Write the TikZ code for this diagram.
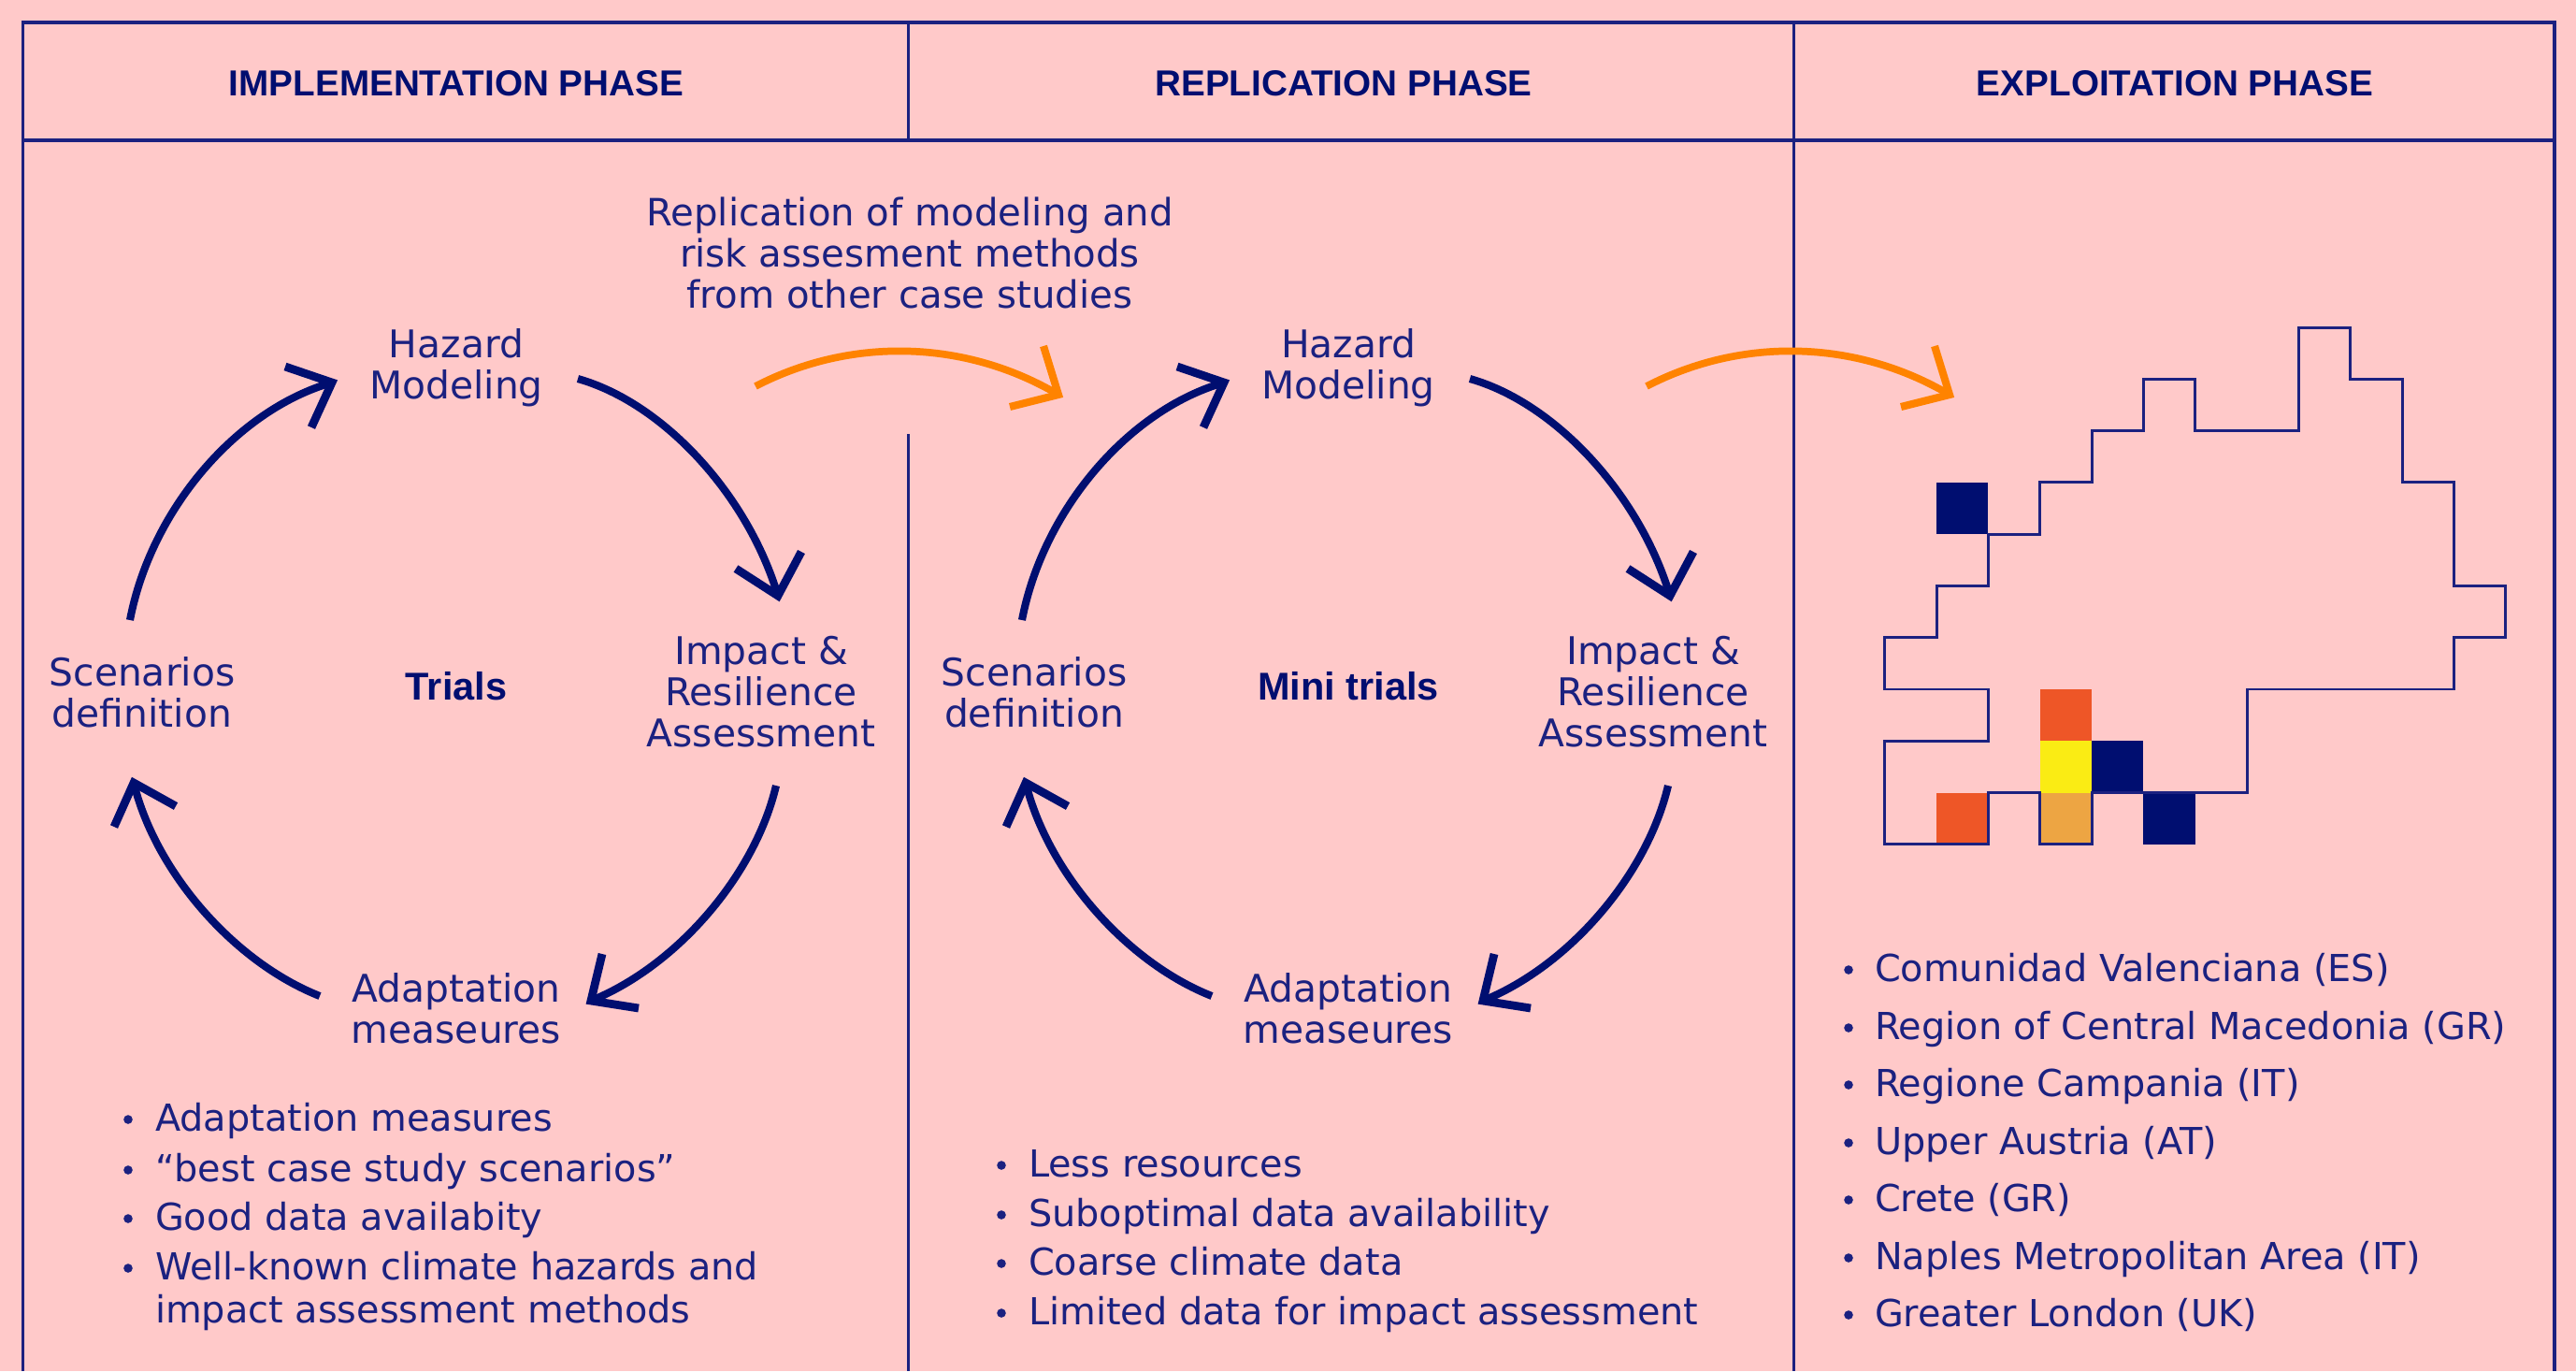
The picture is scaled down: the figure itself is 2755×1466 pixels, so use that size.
\documentclass[tikz,border=0pt]{standalone}
\usepackage{fontspec}
\setmainfont{DejaVu Sans}
\newfontfamily\headfont{Liberation Sans}[BoldFont={Liberation Sans Bold}]
\definecolor{bgpink}{HTML}{FFC9C9}
\definecolor{navy}{HTML}{000E70}
\definecolor{inkblue}{HTML}{1B2180}
\definecolor{linkorange}{HTML}{FF8300}
\definecolor{cellred}{HTML}{EE5627}
\definecolor{cellyellow}{HTML}{FAEC14}
\definecolor{celltan}{HTML}{EDA543}
\tikzset{
  rule/.style={draw=inkblue,line width=0.8pt},
  rulethick/.style={draw=inkblue,line width=1pt},
  bodytext/.style={text=inkblue,inner sep=0pt,outer sep=0pt,align=center,anchor=base,font=\fontsize{11.6}{12.4}\selectfont},
  notetext/.style={bodytext,font=\fontsize{11.45}{12.4}\selectfont},
  listtext/.style={text=inkblue,inner sep=0pt,outer sep=0pt,align=left,anchor=base west,font=\fontsize{11.32}{13}\selectfont},
  headtext/.style={text=navy,inner sep=0pt,outer sep=0pt,anchor=base,font=\headfont\bfseries\fontsize{11}{12}\selectfont},
  trialtext/.style={text=navy,inner sep=0pt,outer sep=0pt,anchor=base,font=\headfont\bfseries\fontsize{11.8}{13}\selectfont},
  cyclearc/.style={draw=navy,line width=2.3pt},
  cyclehead/.style={draw=navy,line width=2.5pt,miter limit=10},
  linkarc/.style={draw=linkorange,line width=2.2pt},
  linkhead/.style={draw=linkorange,line width=2.3pt,miter limit=10},
  outlinepath/.style={draw=inkblue,line width=0.85pt,line join=miter},
}
% one list line: name, x of bullet, x of text, baseline, text
\newcommand{\listline}[5]{%
  \fill[inkblue] (#2,#4-12) circle [radius=0.048cm];
  \node[listtext] (#1) at (#3,#4) {#5};
}
% one cycle of four arrows, with its labels
\newcommand{\cycleset}[3]{%
  \begin{scope}[shift={(#2,0)}]
    \node[bodytext] (#1haz) at (488,426) {Hazard\\Modeling};
    \node[bodytext] (#1imp) at (814,798) {Impact \&\\Resilience\\Assessment};
    \node[bodytext] (#1ada) at (488,1115) {Adaptation\\measeures};
    \node[bodytext] (#1sce) at (152,777) {Scenarios\\definition};
    \node[trialtext] (#1tri) at (488,748) {#3};
    \coordinate (#1as) at (139,663); \coordinate (#1at) at (355,409);
    \coordinate (#1bs) at (618,405); \coordinate (#1bt) at (832,637);
    \coordinate (#1cs) at (830,840); \coordinate (#1ct) at (632,1070);
    \coordinate (#1ds) at (342,1065); \coordinate (#1dt) at (143,837);
    \draw[cyclearc] (#1as) .. controls (161.4,545.6) and (252.6,438.4) .. (#1at);
    \draw[cyclehead] (305,392) -- (#1at) -- (333,457);
    \draw[cyclearc] (#1bs) .. controls (709.2,430.7) and (799.5,528.6) .. (#1bt);
    \draw[cyclehead] (787,608) -- (#1bt) -- (857,590);
    \draw[cyclearc] (#1cs) .. controls (807.5,935.8) and (723.9,1032.9) .. (#1ct);
    \draw[cyclehead] (644,1020) -- (#1ct) -- (683,1078);
    \draw[cyclearc] (#1ds) .. controls (250.4,1028.8) and (166.4,932.6) .. (#1dt);
    \draw[cyclehead] (122,884) -- (#1dt) -- (188,862);
  \end{scope}
}
% one orange link arrow
\newcommand{\linkarrow}[2]{%
  \begin{scope}[shift={(#2,0)}]
    \coordinate (#1s) at (808,413); \coordinate (#1t) at (1132,422);
    \draw[linkarc] (#1s) .. controls (910.3,359.8) and (1032.8,363.2) .. (#1t);
    \draw[linkhead] (1116,370) -- (#1t) -- (1080,435);
  \end{scope}
}
\begin{document}
\begin{tikzpicture}[x=0.01cm,y=-0.01cm]
\useasboundingbox (0,0) rectangle (2755,1466);
\fill[bgpink] (0,0) rectangle (2755,1466);
% table
\draw[rulethick] (24.5,1466) -- (24.5,24) -- (2732,24) -- (2732,1466);
\draw[rulethick] (24.5,150) -- (2732,150);
\draw[rule] (971.5,24) -- (971.5,150);
\draw[rule] (971.5,464) -- (971.5,1466);
\draw[rule] (1918.5,24) -- (1918.5,1466);
% headers
\node[headtext] (h1) at (488,102) {IMPLEMENTATION PHASE};
\node[headtext] (h2) at (1437,102) {REPLICATION PHASE};
\node[headtext] (h3) at (2326,102) {EXPLOITATION PHASE};
% replication note
\node[notetext] (note) at (973,329) {Replication of modeling and\\risk assesment methods\\from other case studies};
% cycles
\cycleset{l}{0}{Trials}
\cycleset{m}{954}{Mini trials}
% orange links
\linkarrow{oa}{0}
\linkarrow{ob}{953}
% map
\begin{scope}[shift={(2015.7,350)},x=0.553cm,y=-0.5525cm]
  \fill[navy] (1,3) rectangle (2,4);
  \fill[navy] (4,8) rectangle (5,9);
  \fill[navy] (5,9) rectangle (6,10);
  \fill[cellred] (3,7) rectangle (4,8);
  \fill[cellyellow] (3,8) rectangle (4,9);
  \fill[celltan] (3,9) rectangle (4,10);
  \fill[cellred] (1,9) rectangle (2,10);
  \draw[outlinepath] (8,0) -- (9,0) -- (9,1) -- (10,1) -- (10,3) -- (11,3) -- (11,5) -- (12,5) -- (12,6) -- (11,6) -- (11,7) -- (7,7) -- (7,9) -- (4,9) -- (4,10) -- (3,10) -- (3,9) -- (2,9) -- (2,10) -- (0,10) -- (0,8) -- (2,8) -- (2,7) -- (0,7) -- (0,6) -- (1,6) -- (1,5) -- (2,5) -- (2,4) -- (3,4) -- (3,3) -- (4,3) -- (4,2) -- (5,2) -- (5,1) -- (6,1) -- (6,2) -- (8,2) -- cycle;
\end{scope}
% lists
\listline{la}{137}{166}{1209}{Adaptation measures}
\listline{lb}{137}{166}{1263}{“best case study scenarios”}
\listline{lc}{137}{166}{1315}{Good data availabity}
\listline{ld}{137}{166}{1368}{Well-known climate hazards and}
\node[listtext] (le) at (166,1414) {impact assessment methods};
\listline{ma}{1071}{1100}{1258}{Less resources}
\listline{mb}{1071}{1100}{1311}{Suboptimal data availability}
\listline{mc}{1071}{1100}{1363}{Coarse climate data}
\listline{md}{1071}{1100}{1416}{Limited data for impact assessment}
\listline{ra}{1977}{2005}{1049}{Comunidad Valenciana (ES)}
\listline{rb}{1977}{2005}{1111}{Region of Central Macedonia (GR)}
\listline{rc}{1977}{2005}{1172}{Regione Campania (IT)}
\listline{rd}{1977}{2005}{1234}{Upper Austria (AT)}
\listline{re}{1977}{2005}{1295}{Crete (GR)}
\listline{rf}{1977}{2005}{1357}{Naples Metropolitan Area (IT)}
\listline{rg}{1977}{2005}{1418}{Greater London (UK)}
\end{tikzpicture}
\end{document}
